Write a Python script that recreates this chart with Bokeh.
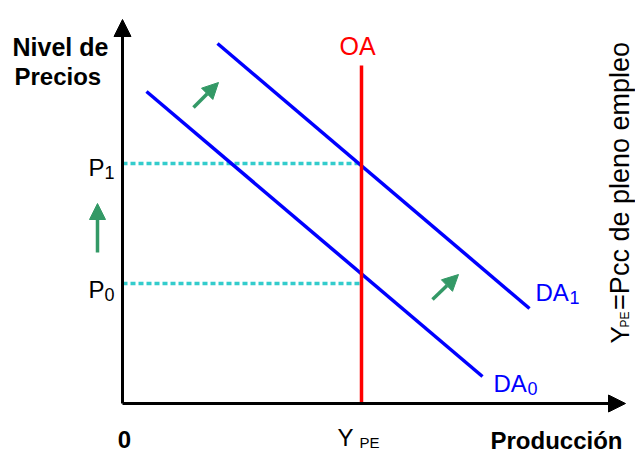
import math
from bokeh.plotting import figure
from bokeh.models import Range1d, Arrow, NormalHead
from bokeh.core.properties import value
from bokeh.embed import file_html
from bokeh.resources import INLINE

# ---- data (economic units) ----
y_pe = 4.78          # full-employment output
p0 = 3.0             # initial price level
p1 = 6.0             # new price level
oa_top = 8.45        # top of vertical OA line
da0_x = [0.48, 7.2]
da0_y = [7.8, 0.675]
da1_x = [1.9, 8.14]
da1_y = [9.0, 2.375]
x_axis_end = 10.06
y_axis_end = 9.6
# shift arrows: (x_start, y_start, x_end, y_end)
shift_arrows = [(-0.5, 3.775, -0.5, 5.0),
                (1.42, 7.4, 1.92, 8.025),
                (6.2, 2.6, 6.72, 3.225)]

FONT = value("Liberation Sans")
BLUE = "#0000ff"
GREEN = "#339966"
RED = "#ff0000"
CYAN = "#33cccc"

p = figure(width=635, height=453, x_range=Range1d(-2.44, 10.26), y_range=Range1d(-1.25, 10.075),
           output_backend="svg", toolbar_location=None, min_border=0,
           x_axis_location=None, y_axis_location=None)
p.grid.visible = False
p.outline_line_color = None
p.background_fill_color = "white"

# axes with arrow heads
p.add_layout(Arrow(end=NormalHead(size=17, fill_color="black", line_color="black"),
                   x_start=0, y_start=0, x_end=0, y_end=y_axis_end, line_width=3, line_color="black"))
p.add_layout(Arrow(end=NormalHead(size=17, fill_color="black", line_color="black"),
                   x_start=0, y_start=0, x_end=x_axis_end, y_end=0, line_width=3, line_color="black"))

# dotted price levels
p.line([0, y_pe], [p1, p1], line_color=CYAN, line_width=3.5, line_dash="5 3")
p.line([0, y_pe], [p0, p0], line_color=CYAN, line_width=3.5, line_dash="5 3")

# demand curves
p.line(da0_x, da0_y, line_color=BLUE, line_width=3.5)
p.line(da1_x, da1_y, line_color=BLUE, line_width=3.5)

# OA vertical
p.line([y_pe, y_pe], [0, oa_top], line_color=RED, line_width=3.5)

# green shift arrows
for xs, ys, xe, ye in shift_arrows:
    p.add_layout(Arrow(end=NormalHead(size=16, fill_color=GREEN, line_color=GREEN),
                       x_start=xs, y_start=ys, x_end=xe, y_end=ye, line_width=3.5, line_color=GREEN))

def txt(x, y, s, size, color="black", style="normal", align="left", angle=0.0, baseline="alphabetic"):
    p.text(x=[x], y=[y], text=[s], text_font=FONT, text_font_size=size, text_font_style=style,
           text_color=color, text_align=align, text_baseline=baseline, angle=angle)

# axis titles
txt(-2.2, 8.925, "Nivel de", "25px", style="bold")
txt(-2.16, 8.175, "Precios", "24px", style="bold")
txt(7.36, -0.925, "Producción", "24px", style="bold")

# tick-like labels
txt(0.04, -0.9, "0", "24px", style="bold", align="center")
txt(4.3, -0.85, "Y", "24px")
txt(4.74, -0.975, "PE", "15px")
txt(-0.68, p1 - 0.1, "P", "24px")
txt(-0.36, p1 - 0.225, "1", "18px")
txt(-0.68, p0 - 0.15, "P", "24px")
txt(-0.36, p0 - 0.275, "0", "18px")

# curve labels
txt(4.7, 8.95, "OA", "25px", color=RED, align="center")
txt(8.26, 2.775, "DA", "24px", color=BLUE)
txt(8.94, 2.65, "1", "18px", color=BLUE)
txt(7.42, 0.5, "DA", "24px", color=BLUE)
txt(8.1, 0.375, "0", "18px", color=BLUE)

# rotated note on the right (centred on its own line)
ang = math.pi / 2
txt(9.94, 1.5, "Y", "26px", angle=ang, baseline="middle")
txt(10.04, 1.9, "PE", "12px", angle=ang, baseline="middle")
txt(9.94, 2.34, "=Pcc de pleno empleo", "27px", angle=ang, baseline="middle")

open("out.html", "w").write(file_html(p, INLINE))
